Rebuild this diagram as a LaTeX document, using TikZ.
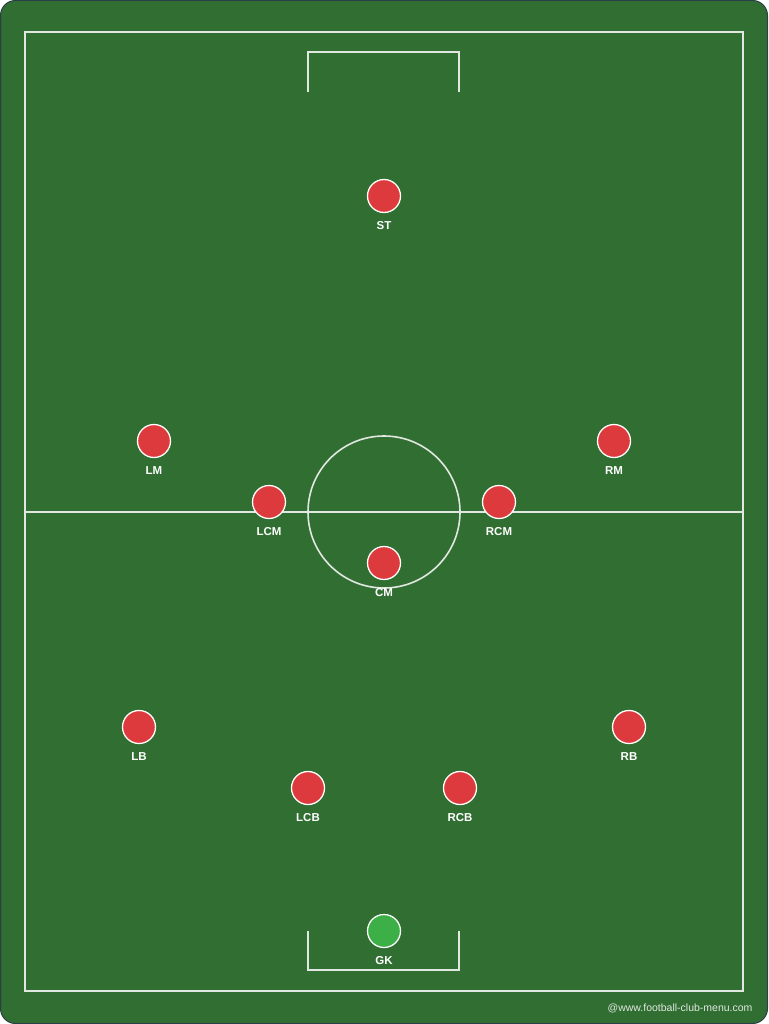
\documentclass[tikz,border=0pt]{standalone}
\usepackage{fontspec}
\setmainfont{Liberation Sans}
\usetikzlibrary{positioning, calc}

\definecolor{pitch}{RGB}{48,110,50}
\definecolor{frame}{RGB}{44,62,72}
\definecolor{shirt}{RGB}{220,58,60}
\definecolor{keeper}{RGB}{60,176,70}
\definecolor{chalk}{RGB}{225,232,225}

\begin{document}
\begin{tikzpicture}[
    x=1pt, y=-1pt,
    line/.style={
        draw=chalk,
        line width=1.6pt
    },
    player/.style={
        circle,
        fill=shirt,
        draw=white,
        line width=1.3pt,
        minimum size=33pt,
        inner sep=0pt
    },
    goalie/.style={
        player,
        fill=keeper
    },
    role/.style={
        text=white,
        font=\bfseries\fontsize{11.5}{13}\selectfont,
        inner sep=0pt
    }
]
    \useasboundingbox (0,0) rectangle (768,1024);

    % Background
    \draw[fill=pitch, draw=frame, line width=1pt, rounded corners=15pt] (0.5,0.5) rectangle (767.5,1023.5);

    % Pitch markings
    \draw[line] (25,32) rectangle (743,991);
    \draw[line] (25,512) -- (743,512);
    \node[circle, line, minimum size=152pt, inner sep=0pt] (centre) at (384,512) {};
    % Goal boxes
    \draw[line] (308,92) -- (308,52) -- (459,52) -- (459,92);
    \draw[line] (308,931) -- (308,970) -- (459,970) -- (459,931);

    % Attack
    \node[player] (st) at (384,196) {};
    \node[role, below=8pt of st] (stl) {ST};

    % Midfield
    \node[player] (lm) at (154,441) {};
    \node[role, below=8pt of lm] (lml) {LM};
    \node[player] (rm) at (614,441) {};
    \node[role, below=8pt of rm] (rml) {RM};
    \node[player] (lcm) at (269,502) {};
    \node[role, below=8pt of lcm] (lcml) {LCM};
    \node[player] (rcm) at (499,502) {};
    \node[role, below=8pt of rcm] (rcml) {RCM};
    \node[player] (cm) at (384,563) {};
    \node[role, below=8pt of cm] (cml) {CM};

    % Defence
    \node[player] (lb) at (139,727) {};
    \node[role, below=8pt of lb] (lbl) {LB};
    \node[player] (rb) at (629,727) {};
    \node[role, below=8pt of rb] (rbl) {RB};
    \node[player] (lcb) at (308,788) {};
    \node[role, below=8pt of lcb] (lcbl) {LCB};
    \node[player] (rcb) at (460,788) {};
    \node[role, below=8pt of rcb] (rcbl) {RCB};

    % Keeper
    \node[goalie] (gk) at (384,931) {};
    \node[role, below=8pt of gk] (gkl) {GK};

    \node[anchor=east, text=chalk, font=\fontsize{10.5}{12}\selectfont] (credit) at (756,1008) {@www.football-club-menu.com};
\end{tikzpicture}
\end{document}
